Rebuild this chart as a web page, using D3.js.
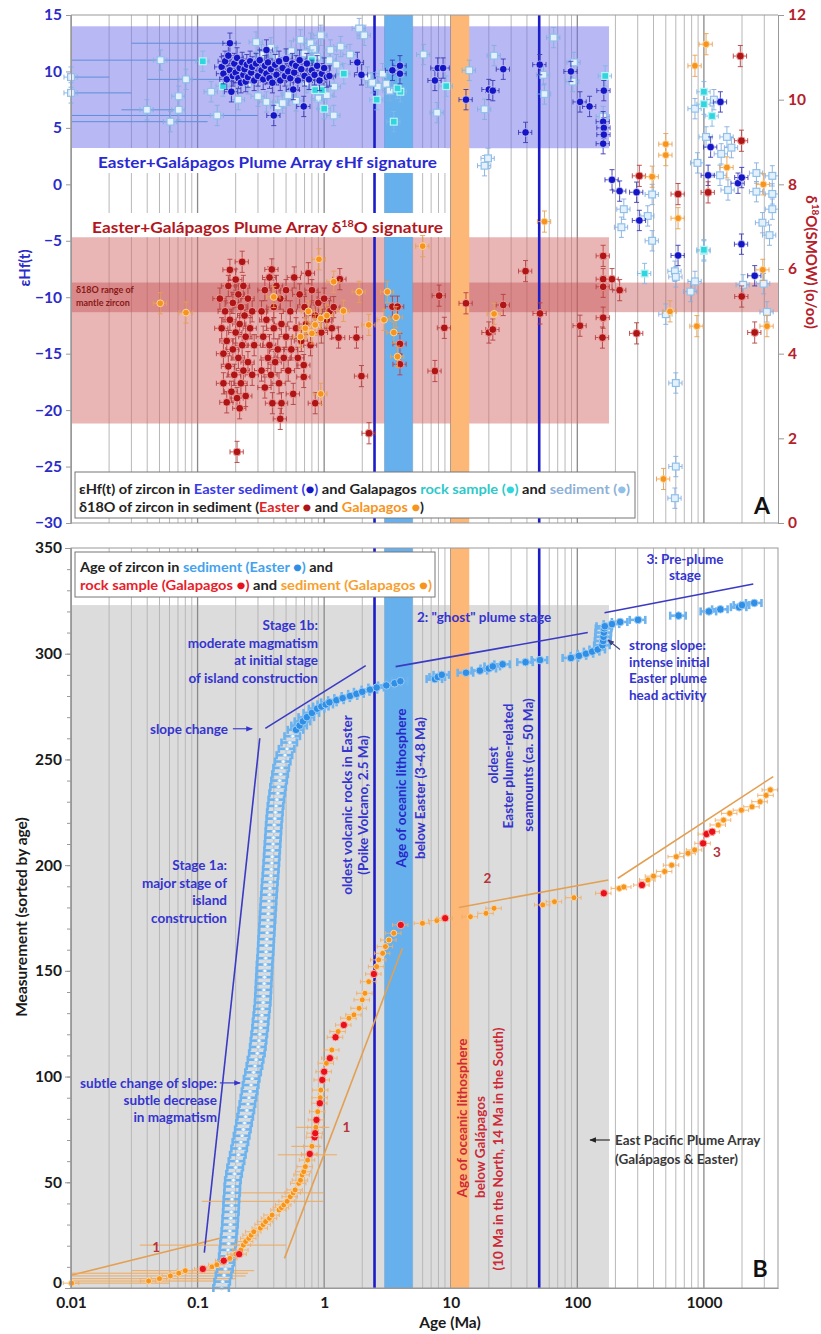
<!DOCTYPE html>
<html>
<head>
<meta charset="utf-8">
<title>Easter / Galapagos zircon</title>
<script src="https://cdn.jsdelivr.net/npm/d3@7"></script>
<style>
  body { margin: 0; background: #fff; }
  text { font-family: Lato, "Open Sans", sans-serif; font-weight: bold; }
</style>
</head>
<body>
<svg width="821" height="1334" id="mainsvg"></svg>
<script>
// ---------------- data ----------------
const ageTicks = [0.01, 0.1, 1, 10, 100, 1000];
const hfTicks = [15, 10, 5, 0, -5, -10, -15, -20, -25, -30];
const o18Ticks = [0, 2, 4, 6, 8, 10, 12];
const measTicks = [0, 50, 100, 150, 200, 250, 300, 350];

// shaded ranges
const hfSignature = [3.2, 14];      // eHf
const o18Signature = [2.35, 6.75];  // d18O
const mantleZircon = [4.98, 5.68];  // d18O
const plumeAgeMax = 178;            // Ma, right edge of signature boxes
const easterLithosphere = [3.0, 5.0];
const galapagosLithosphere = [10, 14];
const keyAges = [2.5, 50];
const grayTop = 323;

// panel A: eHf of zircon, Easter sediment [age, eHf]
const easterHf = [[0.155,10.4],[0.16,9.8],[0.165,10.9],[0.17,9.3],[0.175,11.4],[0.18,12.5],[0.18,10.1],[0.185,8.2],[0.19,9.6],
  [0.195,10.7],[0.2,9.9],[0.205,11.2],[0.21,9.4],[0.215,10.3],[0.22,9.0],[0.225,10.8],[0.23,9.7],[0.235,10.2],[0.24,9.1],
  [0.245,10.6],[0.25,9.5],[0.26,10.9],[0.265,9.9],[0.27,10.4],[0.28,9.2],[0.29,10.7],[0.3,9.6],[0.31,11.0],[0.32,10.1],
  [0.33,9.3],[0.34,10.5],[0.35,11.9],[0.35,9.8],[0.36,10.8],[0.37,9.4],[0.38,10.2],[0.39,9.0],[0.4,6.1],[0.41,10.6],
  [0.42,9.7],[0.44,10.9],[0.45,9.2],[0.47,10.3],[0.49,9.6],[0.5,11.1],[0.52,10.0],[0.54,9.4],[0.56,10.7],[0.57,8.4],
  [0.58,9.9],[0.6,10.5],[0.62,9.2],[0.64,11.0],[0.66,10.2],[0.69,6.9],[0.7,9.6],[0.73,10.7],[0.76,9.3],[0.8,10.1],
  [0.84,9.7],[0.88,10.5],[0.92,9.2],[0.96,9.8],[1.0,10.3],[1.05,9.5],[1.1,9.6],[1.83,10.8],[1.97,9.7],[3.46,10.1],
  [3.97,10.5],[3.97,9.8],[7.9,10.3],[8.7,10.3],[7.5,9.2],[13.2,7.5],[20,8.4],[21.5,8.3],[26,10.2],[39,4.6],[50.5,10.6],
  [89,10.0],[105,7.3],[125,6.9],[162,8.3],[160,5.55],[162,5.0],[162,4.4],[160,3.6],[188,0.4],[216,-0.6],[294,-0.7],
  [309,-3.2],[625,-6.3],[1080,0.8],[1130,3.3],[1350,7.3],[1860,0.1],[1990,0.6],[1980,-5.3],[2520,-8.1]];

// Galapagos rock sample [age, eHf]
const galRockHf = [[0.11,10.9],[0.159,8.7],[0.8,11.0],[0.85,8.35],[0.96,8.35],[1.0,6.7],[1.43,9.8],[2.6,7.5],[3.55,5.55],
  [4.0,8.2],[3.8,8.5],[9.2,8.7],[166,9.6],[1000,8.2],[1000,7.1],[1160,6.05],[1000,-5.9],[340,-7.9],[1000,-5.8]];

// Galapagos sediment [age, eHf]
const galSedHf = [[0.01,9.5],[0.01,8.1],[0.051,11.0],[0.0398,6.6],[0.061,5.55],[0.071,7.8],[0.071,6.6],[0.081,9.3],
  [0.128,8.2],[0.143,6.1],[0.21,7.5],[0.29,12.6],[0.35,7.3],[0.43,6.9],[0.47,7.2],[0.65,12.8],[0.78,12.5],[0.94,13.2],
  [1.12,11.9],[1.35,12.2],[1.89,13.8],[2.07,13.2],[2.2,9.5],[2.65,8.65],[3.1,8.9],[1.19,6.1],[1.2,8.65],[0.25,8.9],
  [0.3,7.8],[0.32,11.5],[0.38,12.1],[0.42,11.2],[0.52,7.9],[0.55,11.8],[0.6,7.4],[0.7,11.6],[0.72,9.0],[0.82,12.0],
  [0.88,11.3],[0.9,7.6],[1.05,7.9],[1.1,11.0],[1.25,10.6],[1.6,11.5],[2.4,9.0],[2.9,9.8],[3.3,8.3],[6.1,11.5],[7.8,6.35],
  [14,10.1],[22,11.4],[18.5,6.65],[19.7,2.3],[18.5,1.65],[65,13.0],[54,9.7],[55,8.0],[94,10.8],[92,9.1],[160,6.0],
  [223,-3.8],[233,-2.2],[360,-2.8],[390,-0.9],[390,-5.0],[850,6.7],[890,1.9],[1040,4.2],[1200,7.5],[1340,0.8],[1370,2.7],
  [1520,4.2],[1650,3.25],[1550,-0.5],[2600,1.0],[2600,-0.65],[2900,-3.4],[3300,-4.5],[3470,0.75],[3470,-0.85],[3470,-2.2],
  [590,-7.7],[600,-8.2],[785,-9.5],[850,-8.6],[2040,-8.9],[2960,-8.8],[3150,-11.3],[500,-11.5],[600,-17.6],[600,-25.0],[590,-27.8]];

// long age error bars on eHf points [age, eHf, ageLo, ageHi]
const hfLongBars = [[0.01,9.5,0.01,0.02],[0.01,8.1,0.01,0.03],[0.051,11.0,0.01,0.105],[0.143,6.1,0.01,0.3],
  [0.061,5.55,0.01,0.12],[0.081,9.3,0.04,0.42],[0.18,12.5,0.03,0.22],[0.0398,6.6,0.025,0.065]];

// panel A: d18O of zircon in sediment, Easter [age, d18O]
const easterO = [[0.15,5.3],[0.155,4.6],[0.16,4.0],[0.16,3.3],[0.165,5.0],[0.17,4.3],[0.17,2.85],[0.175,5.6],[0.175,3.7],
  [0.18,5.98],[0.18,4.8],[0.185,3.1],[0.19,5.2],[0.19,4.1],[0.195,3.5],[0.2,5.75],[0.2,4.5],[0.205,1.68],[0.205,2.95],
  [0.21,5.4],[0.21,3.9],[0.215,4.7],[0.215,2.71],[0.22,5.1],[0.22,3.3],[0.225,6.17],[0.225,4.2],[0.23,5.6],[0.23,3.6],
  [0.235,4.9],[0.24,4.4],[0.24,3.0],[0.25,5.3],[0.25,3.8],[0.26,4.6],[0.27,5.0],[0.27,3.5],[0.28,4.2],
  [0.32,5.0],[0.32,3.6],[0.33,4.4],[0.34,5.5],[0.34,3.2],[0.35,4.8],[0.36,3.9],[0.37,5.8],[0.37,4.2],[0.38,3.5],[0.386,5.99],
  [0.39,2.83],[0.4,5.1],[0.4,4.6],[0.41,3.8],[0.42,5.6],[0.43,4.1],[0.44,3.3],[0.45,2.46],[0.45,5.3],[0.46,4.7],[0.46,2.83],
  [0.48,3.9],[0.5,5.5],[0.5,4.4],[0.52,3.6],[0.54,5.0],[0.55,4.1],[0.57,3.05],[0.58,5.8],[0.6,4.6],[0.62,3.9],[0.64,5.4],
  [0.66,4.3],[0.69,3.73],[0.69,3.45],[0.7,5.1],[0.72,4.7],[0.75,5.9],[0.78,4.2],[0.8,5.5],[0.85,2.83],[0.85,4.9],[0.9,5.2],
  [0.95,4.5],[1.0,5.3],[1.05,4.8],[1.1,5.0],[1.15,4.6],[1.19,5.1],[1.3,4.38],[1.33,5.76],[1.8,4.38],[1.97,3.47],[2.26,2.12],
  [3.46,5.11],[3.8,5.11],[3.97,4.23],[3.97,3.75],[8.1,5.37],[8.9,4.61],[7.5,3.59],[13.2,5.19],[26,5.15],[20,4.5],[21.5,4.57],
  [39,5.95],[50.7,4.95],[105,4.66],[160,6.31],[160,5.76],[160,5.58],[188,5.76],[216,5.5],[160,4.85],[158,4.38],[294,4.48],
  [1990,5.35],[2520,4.5],[309,8.2],[625,7.77],[1080,7.81],[1940,11.03],[1980,9.03]];

// Galapagos [age, d18O]
const galO = [[0.0507,5.19],[0.081,4.97],[0.91,6.23],[1.19,5.7],[1.89,5.46],[1.42,5.01],[0.94,3.05],[2.25,4.68],[2.97,4.8],
  [3.16,5.46],[3.7,4.86],[3.55,4.5],[3.8,3.93],[0.65,4.4],[0.71,4.6],[0.8,4.48],[0.85,4.68],[0.94,4.83],[0.4,5.34],[0.75,5.0],
  [1.05,4.9],[6.0,6.54],[22,4.94],[540,5.0],[880,4.65],[480,1.04],[2920,5.98],[3150,4.65],[55,7.12],[390,8.18],[500,8.95],
  [500,8.69],[625,7.2],[850,10.8],[1040,11.31],[1520,8.4],[2950,8.0]];

// panel B: Easter sediment zircon ages [measurement, age]
const easterAges = [[0,0.155],[3,0.158],[6,0.162],[9,0.166],[12,0.17],[15,0.172],[18,0.174],[21,0.176],[24,0.178],[27,0.18],
  [30,0.182],[33,0.183],[36,0.185],[39,0.186],[42,0.187],[45,0.189],[48,0.19],[51,0.192],[54,0.196],[57,0.2],[60,0.205],
  [63,0.21],[66,0.215],[69,0.22],[72,0.225],[75,0.23],[78,0.235],[81,0.24],[84,0.245],[87,0.25],[90,0.255],[93,0.26],
  [96,0.265],[99,0.27],[102,0.277],[105,0.284],[108,0.29],[111,0.297],[114,0.302],[117,0.306],[120,0.31],[123,0.315],
  [126,0.318],[129,0.322],[132,0.326],[135,0.33],[138,0.332],[141,0.334],[144,0.336],[147,0.338],[150,0.34],[153,0.342],
  [156,0.345],[159,0.348],[162,0.35],[165,0.352],[168,0.355],[171,0.357],[174,0.36],[177,0.362],[180,0.365],[183,0.367],
  [186,0.37],[189,0.373],[192,0.376],[195,0.38],[198,0.383],[201,0.386],[204,0.389],[207,0.392],[210,0.395],[213,0.398],
  [216,0.401],[219,0.404],[222,0.408],[225,0.412],[228,0.417],[231,0.423],[234,0.43],[237,0.437],[240,0.445],[243,0.453],
  [246,0.462],[249,0.475],[252,0.49],[255,0.51],[258,0.535],[261,0.565],[264,0.6],[266,0.64],[268,0.68],[270,0.73],
  [272,0.8],[274,0.88],[275,0.95],[276,1.03],[277,1.1],[278,1.25],[279,1.4],[280,1.6],[281,1.8],[282,2.0],[283,2.3],
  [284,2.6],[285,3.1],[286,3.6],[287,4.0],[288,7.5],[289,7.9],[290,8.5],[291,13.2],[292,17],[293,20],[294,21.5],[295,25.7],
  [296,39],[297,50.7],[298,89],[299,103],[300,117],[301,131],[302,145],[304,158],[306,160],[308,161],[310,162],[312,163],
  [313,165],[314,188],[315,218],[316,302],[318,630],[320,1096],[321,1350],[322,1900],[323,2000],[324,2500]];

// Galapagos sediment [measurement, age]
const galSedAges = [[2.3,0.0101],[3.3,0.041],[4.4,0.05],[5.7,0.061],[7,0.071],[8.2,0.08],[10,0.13],[11,0.142],[14,0.18],
  [16,0.2],[18,0.22],[20.3,0.23],[22,0.24],[23.5,0.254],[25,0.265],[26.6,0.278],[28.3,0.313],[30,0.33],[31.4,0.345],[33,0.37],
  [34.5,0.388],[36.9,0.44],[38,0.46],[39.3,0.48],[41,0.51],[43.2,0.54],[45,0.57],[46.4,0.59],[49.5,0.63],[51,0.65],[53.5,0.67],
  [55,0.69],[57.4,0.71],[60.5,0.74],[63,0.77],[67,0.8],[76,0.86],[83.4,0.89],[90,0.93],[93.6,0.94],[106.3,1.04],[112.6,1.15],
  [121.3,1.29],[127.6,1.57],[129.2,1.72],[132.3,1.89],[136.3,2.0],[139.4,2.1],[144.9,2.25],[152,2.6],[155.2,2.7],[158.3,2.9],
  [161.5,3.05],[164.6,3.25],[167.8,3.55],[172.5,5.98],[173.8,7.77],[175.6,14.3],[177.2,19],[179.6,22],[181.2,53.3],
  [182.7,66],[184.6,94],[189,215],[189.7,233],[193,361],[194.8,400],[197,490],[200,556],[204,605],[205.6,750],[207.2,845],
  [219,1300],[221.3,1430],[224.5,1600],[226,1980],[227.6,2400],[230,2780],[233,3100],[235.6,3350]];

// Galapagos rock sample [measurement, age]
const galRockAges = [[9,0.11],[12.9,0.161],[16,0.213],[63.4,0.77],[71.3,0.84],[73.2,0.85],[79.5,0.87],[87.4,0.925],
  [98.4,0.966],[102.3,1.0],[108.7,1.11],[118.6,1.23],[124.4,1.43],[148.5,2.47],[171.7,4.03],[174.9,9.04],[186.7,162],
  [190.6,324],[210.3,986],[214.7,1047],[215.8,1162]];

// long age error bars, Galapagos sediment [measurement, ageLo, ageHi]
const galSedLongBars = [[2.3,0.01,0.06],[3.3,0.01,0.17],[4.4,0.01,0.2],[5.7,0.01,0.24],[7,0.01,0.25],[8.2,0.03,0.28],
  [20.3,0.035,0.5],[41,0.108,0.98],[45,0.163,0.98],[63,0.43,1.26],[67,0.55,0.95],[76,0.6,1.1]];

// trend lines [age0, m0, age1, m1]
const galTrends = [[0.01,6,0.15,23.5],[0.486,14,4.15,160.7],[11.6,180,176,193],[209,193.8,3530,241.9]];
const easterTrends = [[0.113,16.7,0.31,260],[0.343,264.7,2.13,294.4],[3.67,293.9,121,310],[164,319.4,2455,333]];

// ---------------- layout ----------------
const svg = d3.select('#mainsvg');
const plotL = 71, plotR = 778;
const panelA = {top: 15, bottom: 523};
const panelB = {top: 548, bottom: 1288};

const x = d3.scaleLog().domain([0.01, 3850]).range([plotL, plotR]);
const yHf = d3.scaleLinear().domain([-30, 15]).range([panelA.bottom, panelA.top]);
const yO = d3.scaleLinear().domain([0, 12]).range([panelA.bottom, panelA.top]);
const yM = d3.scaleLinear().domain([0, 350]).range([panelB.bottom, panelB.top]);

const C = {
  navy: '#1515c8', hfBlue: '#2b2bc8', red: '#b01515', axisRed: '#b5202a',
  orange: '#f7941d', cyan: '#2fd6de', sedBlue: '#8fc0ea',
  band: '#66b0ee', bandOr: '#fdb877', line: '#1c1cc8', annot: '#3434cf', grid: '#b8b8b8'
};

svg.append('defs').append('marker')
  .attr('id', 'arrow').attr('viewBox', '0 0 10 10').attr('refX', 9).attr('refY', 5)
  .attr('markerWidth', 6).attr('markerHeight', 6).attr('orient', 'auto')
  .append('path').attr('d', 'M0,1 L10,5 L0,9 Z').attr('fill', 'context-stroke');

// grid positions: 1..9 of each decade
const gridAges = [];
ageTicks.forEach(d => { for (let k = 1; k <= 9; k++) if (d * k <= 3850) gridAges.push({v: d * k, major: k === 1}); });

const drawGrid = function(g, y0, y1){
  g.selectAll('line.grid').data(gridAges).join('line').attr('class', 'grid')
    .attr('x1', d => x(d.v)).attr('x2', d => x(d.v)).attr('y1', y0).attr('y2', y1)
    .attr('stroke', d => d.major ? '#8a8a8a' : C.grid).attr('stroke-width', d => d.major ? 1.3 : 1);
};

const drawVBands = function(g, y0, y1){
  [[easterLithosphere, C.band], [galapagosLithosphere, C.bandOr]].forEach(([r, c]) => {
    g.append('rect').attr('x', x(r[0])).attr('width', x(r[1]) - x(r[0]))
      .attr('y', y0).attr('height', y1 - y0).attr('fill', c);
  });
  g.selectAll('line.key').data(keyAges).join('line').attr('class', 'key')
    .attr('x1', d => x(d)).attr('x2', d => x(d)).attr('y1', y0).attr('y2', y1)
    .attr('stroke', C.line).attr('stroke-width', 2.6);
};

// ================= PANEL A =================
const gA = svg.append('g');
drawGrid(gA, panelA.top, panelA.bottom);
gA.append('rect').attr('x', plotL).attr('width', x(plumeAgeMax) - plotL)
  .attr('y', yHf(hfSignature[1])).attr('height', yHf(hfSignature[0]) - yHf(hfSignature[1]))
  .attr('fill', '#7272ec').attr('opacity', 0.5);
gA.append('rect').attr('x', plotL).attr('width', x(plumeAgeMax) - plotL)
  .attr('y', yO(o18Signature[1])).attr('height', yO(o18Signature[0]) - yO(o18Signature[1]))
  .attr('fill', '#d36b6b').attr('opacity', 0.5);
gA.append('rect').attr('x', plotL).attr('width', plotR - plotL)
  .attr('y', yO(mantleZircon[1])).attr('height', yO(mantleZircon[0]) - yO(mantleZircon[1]))
  .attr('fill', '#c04848').attr('opacity', 0.4);
drawVBands(gA, panelA.top, panelA.bottom);

// white label strips
gA.append('rect').attr('x', plotL + 1).attr('y', 148).attr('width', 374).attr('height', 25).attr('fill', '#fff');
gA.append('rect').attr('x', plotL + 1).attr('y', 213).attr('width', 376).attr('height', 24).attr('fill', '#fff');
gA.append('text').attr('x', 98).attr('y', 168).attr('fill', '#2a2ad2').attr('font-size', 16)
  .attr('textLength', 339).attr('lengthAdjust', 'spacingAndGlyphs')
  .text('Easter+Galápagos Plume Array εHf signature');
const o18Lab = gA.append('text').attr('x', 92).attr('y', 233).attr('fill', '#b3161c').attr('font-size', 16)
  .attr('textLength', 351).attr('lengthAdjust', 'spacingAndGlyphs');
o18Lab.append('tspan').text('Easter+Galápagos Plume Array δ');
o18Lab.append('tspan').attr('dy', -6).attr('font-size', 10).text('18');
o18Lab.append('tspan').attr('dy', 6).text('O signature');

gA.append('text').attr('x', 76).attr('y', 293).attr('font-size', 9).attr('font-weight', 'normal')
  .attr('fill', '#8a1818').text('δ18O range of');
gA.append('text').attr('x', 76).attr('y', 306).attr('font-size', 9).attr('font-weight', 'normal')
  .attr('fill', '#8a1818').text('mantle zircon');

const hfErr = 0.9, oErr = 0.25, relErr = 0.12;

const drawPoints = function(g, data, px, py, opt){
  // vertical error bars
  if (opt.vErr) {
    g.selectAll(null).data(data).join('line')
      .attr('x1', d => px(d)).attr('x2', d => px(d))
      .attr('y1', d => py(d) - opt.vErr).attr('y2', d => py(d) + opt.vErr)
      .attr('stroke', opt.bar).attr('stroke-width', 0.9);
    [-1, 1].forEach(s => g.selectAll(null).data(data).join('line')
      .attr('x1', d => px(d) - 2.5).attr('x2', d => px(d) + 2.5)
      .attr('y1', d => py(d) + s * opt.vErr).attr('y2', d => py(d) + s * opt.vErr)
      .attr('stroke', opt.bar).attr('stroke-width', 0.9));
  }
  // horizontal error bars
  g.selectAll(null).data(data).join('line')
    .attr('x1', d => opt.hx(d, -1)).attr('x2', d => opt.hx(d, 1))
    .attr('y1', d => py(d)).attr('y2', d => py(d))
    .attr('stroke', opt.bar).attr('stroke-width', opt.barW || 0.9);
  [-1, 1].forEach(s => g.selectAll(null).data(data).join('line')
    .attr('x1', d => opt.hx(d, s)).attr('x2', d => opt.hx(d, s))
    .attr('y1', d => py(d) - (opt.cap || 2.5)).attr('y2', d => py(d) + (opt.cap || 2.5))
    .attr('stroke', opt.bar).attr('stroke-width', opt.barW || 0.9));
  if (opt.square) {
    g.selectAll(null).data(data).join('rect')
      .attr('x', d => px(d) - opt.r).attr('y', d => py(d) - opt.r)
      .attr('width', opt.r * 2).attr('height', opt.r * 2)
      .attr('fill', opt.fill).attr('stroke', opt.stroke).attr('stroke-width', 1.2);
  } else {
    g.selectAll(null).data(data).join('circle')
      .attr('cx', px).attr('cy', py).attr('r', d => (opt.rf ? opt.rf(d) : opt.r))
      .attr('fill', d => (opt.fillf ? opt.fillf(d) : opt.fill))
      .attr('stroke', d => (opt.strokef ? opt.strokef(d) : opt.stroke)).attr('stroke-width', opt.sw || 1);
  }
};

const hxA = (d, s) => x(d[0] * (1 + s * relErr));

// long bars first
gA.selectAll(null).data(hfLongBars).join('line')
  .attr('x1', d => x(d[2])).attr('x2', d => x(d[3])).attr('y1', d => yHf(d[1])).attr('y2', d => yHf(d[1]))
  .attr('stroke', '#5d8fd8').attr('stroke-width', 1);

const gSed = gA.append('g');
drawPoints(gSed, galSedHf, d => x(d[0]), d => yHf(d[1]),
  {vErr: hfErr * 11.29, bar: '#86aee0', hx: hxA, square: true, r: 3.4, fill: '#e4f1fc', stroke: C.sedBlue});
const gRock = gA.append('g');
drawPoints(gRock, galRockHf, d => x(d[0]), d => yHf(d[1]),
  {vErr: hfErr * 11.29, bar: '#7fb8e6', hx: hxA, square: true, r: 3.4, fill: C.cyan, stroke: '#b8f2f4'});
const gNavy = gA.append('g');
drawPoints(gNavy, easterHf, d => x(d[0]), d => yHf(d[1]),
  {vErr: hfErr * 11.29, bar: '#3a3ab8', hx: hxA, r: 3.8, fill: C.navy, stroke: '#ffffff', sw: 0.6});

const gRed = gA.append('g');
drawPoints(gRed, easterO, d => x(d[0]), d => yO(d[1]),
  {vErr: oErr * 42.33, bar: '#b84040', hx: hxA, r: 3.9, fill: C.red, stroke: '#f2a6a6', sw: 0.9});
const gOr = gA.append('g');
drawPoints(gOr, galO, d => x(d[0]), d => yO(d[1]),
  {vErr: oErr * 42.33, bar: '#e8a050', hx: hxA, r: 3.4, fill: C.orange, stroke: '#ffd69a', sw: 1});

// legend A
gA.append('rect').attr('x', 75).attr('y', 472).attr('width', 560).attr('height', 46)
  .attr('fill', '#fff').attr('stroke', '#777').attr('stroke-width', 1);
const legA1 = gA.append('text').attr('x', 79).attr('y', 494).attr('font-size', 13.5)
  .attr('textLength', 551).attr('lengthAdjust', 'spacingAndGlyphs');
[['εHf(t) of zircon in ', '#222'], ['Easter sediment (', '#3a3ae6'], ['●', '#1515c8'], [')', '#3a3ae6'],
 [' and Galapagos ', '#222'], ['rock sample (', '#2ec8c8'], ['●', '#2fd6de'], [')', '#2ec8c8'],
 [' and ', '#222'], ['sediment (', '#8db0d6'], ['●', '#8fc0ea'], [')', '#8db0d6']]
  .forEach(([t, c]) => legA1.append('tspan').attr('fill', c).text(t));
const legA2 = gA.append('text').attr('x', 79).attr('y', 512).attr('font-size', 13.5)
  .attr('textLength', 345).attr('lengthAdjust', 'spacingAndGlyphs');
[['δ18O  of zircon in sediment (', '#222'], ['Easter ', '#e02424'], ['●', '#b01515'], [' and ', '#222'],
 ['Galapagos ', '#f7941d'], ['●', '#f7941d'], [')', '#222']]
  .forEach(([t, c]) => legA2.append('tspan').attr('fill', c).text(t));

gA.append('text').attr('x', 762).attr('y', 514).attr('text-anchor', 'middle').attr('font-size', 23).attr('fill', '#111').text('A');

// frame + axes A
gA.append('line').attr('x1', plotL).attr('x2', plotR).attr('y1', panelA.top).attr('y2', panelA.top).attr('stroke', '#999');
gA.append('line').attr('x1', plotL).attr('x2', plotR).attr('y1', panelA.bottom).attr('y2', panelA.bottom).attr('stroke', '#999');
const axL = gA.append('g').attr('transform', `translate(${plotL},0)`)
  .call(d3.axisLeft(yHf).tickValues(hfTicks).tickSize(5).tickPadding(4));
axL.selectAll('text').attr('fill', C.hfBlue).attr('font-size', 15.5).attr('font-family', 'Lato, sans-serif').attr('font-weight', 'bold');
axL.selectAll('line,path').attr('stroke', '#999');
const axR = gA.append('g').attr('transform', `translate(${plotR},0)`)
  .call(d3.axisRight(yO).tickValues(o18Ticks).tickSize(6).tickPadding(4));
axR.selectAll('text').attr('fill', C.axisRed).attr('font-size', 15.5).attr('font-family', 'Lato, sans-serif').attr('font-weight', 'bold');
axR.selectAll('line,path').attr('stroke', '#999');

gA.append('text').attr('transform', 'translate(30,268) rotate(-90)').attr('text-anchor', 'middle')
  .attr('fill', C.hfBlue).attr('font-size', 15).text('εHf(t)');
const rt = gA.append('text').attr('transform', 'translate(806,262) rotate(90)').attr('text-anchor', 'middle')
  .attr('fill', C.axisRed).attr('font-size', 15);
rt.append('tspan').text('δ');
rt.append('tspan').attr('dy', -6).attr('font-size', 10).text('18');
rt.append('tspan').attr('dy', 6).text('O(SMOW) (o/oo)');

// ================= PANEL B =================
const gB = svg.append('g');
gB.append('rect').attr('x', plotL).attr('width', x(plumeAgeMax) - plotL)
  .attr('y', yM(grayTop)).attr('height', yM(0) - yM(grayTop)).attr('fill', '#dcdcdc');
drawGrid(gB, panelB.top, panelB.bottom);
drawVBands(gB, panelB.top, panelB.bottom);

// trend lines
gB.selectAll(null).data(galTrends).join('line')
  .attr('x1', d => x(d[0])).attr('y1', d => yM(d[1])).attr('x2', d => x(d[2])).attr('y2', d => yM(d[3]))
  .attr('stroke', '#e3a052').attr('stroke-width', 1.6);
gB.selectAll(null).data(easterTrends).join('line')
  .attr('x1', d => x(d[0])).attr('y1', d => yM(d[1])).attr('x2', d => x(d[2])).attr('y2', d => yM(d[3]))
  .attr('stroke', '#3a3ac4').attr('stroke-width', 1.6);

// orange long bars
gB.selectAll(null).data(galSedLongBars).join('line')
  .attr('x1', d => x(d[1])).attr('x2', d => x(d[2])).attr('y1', d => yM(d[0])).attr('y2', d => yM(d[0]))
  .attr('stroke', '#f0a85a').attr('stroke-width', 1);

const hxB = (d, s) => x(d[1] * (1 + s * 0.14));
const gBlue = gB.append('g');
drawPoints(gBlue, easterAges, d => x(d[1]), d => yM(d[0]),
  {bar: '#6cb3ef', barW: 2.6, cap: 4, hx: hxB,
   rf: d => d[1] < 0.6 ? 1.9 : 3.8,
   fillf: d => d[1] < 0.6 ? '#f4faff' : '#2f8fe6',
   strokef: d => d[1] < 0.6 ? '#a6d2f6' : '#9ccbf3', sw: 1});
const gGs = gB.append('g');
drawPoints(gGs, galSedAges, d => x(d[1]), d => yM(d[0]),
  {bar: '#f2ad66', hx: hxB, cap: 2, r: 3, fill: C.orange, stroke: '#ffd69a', sw: 1});
const gGr = gB.append('g');
drawPoints(gGr, galRockAges, d => x(d[1]), d => yM(d[0]),
  {bar: '#f2ad66', hx: hxB, cap: 2, r: 3.7, fill: '#e8101a', stroke: '#ffb0a0', sw: 1});

// legend B
gB.append('rect').attr('x', 75).attr('y', 552).attr('width', 360).attr('height', 45)
  .attr('fill', '#fff').attr('stroke', '#777').attr('stroke-width', 1);
const legB1 = gB.append('text').attr('x', 80).attr('y', 572).attr('font-size', 13.5)
  .attr('textLength', 253).attr('lengthAdjust', 'spacingAndGlyphs');
[['Age of zircon in ', '#222'], ['sediment (Easter ', '#43a2ee'], ['●', '#2f8fe6'], [')', '#43a2ee'], [' and', '#222']]
  .forEach(([t, c]) => legB1.append('tspan').attr('fill', c).text(t));
const legB2 = gB.append('text').attr('x', 80).attr('y', 590).attr('font-size', 13.5)
  .attr('textLength', 352).attr('lengthAdjust', 'spacingAndGlyphs');
[['rock sample (Galapagos ', '#e8202a'], ['●', '#e8101a'], [')', '#e8202a'], [' and ', '#222'],
 ['sediment (Galapagos ', '#f7a030'], ['●', '#f7941d'], [')', '#f7a030']]
  .forEach(([t, c]) => legB2.append('tspan').attr('fill', c).text(t));

// annotations
const note = function(lines, xp, y0, anchor, color, dy){
  lines.forEach((t, i) => gB.append('text').attr('x', xp).attr('y', y0 + i * (dy || 17.5))
    .attr('text-anchor', anchor).attr('fill', color).attr('font-size', 13.5).text(t));
};
note(['Stage 1b:', 'moderate magmatism', 'at initial stage', 'of island construction'], 318, 630, 'end', C.annot);
note(['slope change'], 228, 734, 'end', C.annot);
note(['2: "ghost" plume stage'], 417, 622, 'start', C.annot);
note(['3: Pre-plume', 'stage'], 685, 564, 'middle', C.annot, 16);
note(['strong slope:', 'intense initial', 'Easter plume', 'head activity'], 629, 650, 'start', C.annot, 16.5);
note(['Stage 1a:', 'major stage of', 'island', 'construction'], 227, 870, 'end', C.annot);
note(['subtle change of slope:', 'subtle decrease', 'in magmatism'], 217, 1088, 'end', C.annot, 17);
note(['East Pacific Plume Array', '(Galápagos & Easter)'], 615, 1145, 'start', '#383838', 19);

const vnote = function(t, xp, yp, color){
  gB.append('text').attr('transform', `translate(${xp},${yp}) rotate(-90)`).attr('text-anchor', 'middle')
    .attr('fill', color).attr('font-size', 13.5).text(t);
};
vnote('oldest volcanic rocks in Easter', 352, 805, C.annot);
vnote('(Poike Volcano, 2.5 Ma)', 368, 805, C.annot);
vnote('Age of oceanic lithosphere', 406, 788, '#2727c8');
vnote('below Easter (3-4.8 Ma)', 425, 788, C.annot);
vnote('oldest', 498, 765, C.annot);
vnote('Easter plume-related', 513, 766, C.annot);
vnote('seamounts (ca. 50 Ma)', 533, 765, C.annot);
vnote('Age of oceanic lithosphere', 467, 1118, '#cc2a36');
vnote('below Galápagos', 485, 1147, '#cc2a36');
vnote('(10 Ma in the North, 14 Ma in the South)', 503, 1149, '#cc2a36');

[['1', 0.047, 17], ['1', 1.5, 74], ['2', 19.5, 191.5], ['3', 1270, 204]].forEach(([t, a, m]) => {
  gB.append('text').attr('x', x(a)).attr('y', yM(m)).attr('text-anchor', 'middle')
    .attr('fill', '#b8323a').attr('font-size', 13.5).text(t);
});

// arrows [age0, m0, age1, m1, colour]
[[0.19, 264.5, 0.27, 264.5, C.annot], [0.15, 97, 0.217, 97, C.annot],
 [217, 302, 175, 306.5, '#404080'], [181, 70, 126, 70, '#222']].forEach(d => {
  gB.append('line').attr('x1', x(d[0])).attr('y1', yM(d[1])).attr('x2', x(d[2])).attr('y2', yM(d[3]))
    .attr('stroke', d[4]).attr('stroke-width', 1.1).attr('marker-end', 'url(#arrow)');
});

gB.append('text').attr('x', 760).attr('y', 1277).attr('text-anchor', 'middle').attr('font-size', 23).attr('fill', '#111').text('B');

// frame + axes B
gB.append('rect').attr('x', plotL).attr('y', panelB.top).attr('width', plotR - plotL)
  .attr('height', panelB.bottom - panelB.top).attr('fill', 'none').attr('stroke', '#999');
const axBL = gB.append('g').attr('transform', `translate(${plotL},0)`)
  .call(d3.axisLeft(yM).tickValues(measTicks).tickSize(6).tickPadding(3));
axBL.selectAll('text').attr('fill', '#1a1a1a').attr('font-size', 15.5).attr('font-family', 'Lato, sans-serif').attr('font-weight', 'bold');
axBL.selectAll('.tick').filter(d => d === 0).select('text').attr('dy', '-0.05em');
axBL.selectAll('line,path').attr('stroke', '#999');
gB.append('g').attr('transform', `translate(${plotL},0)`)
  .call(d3.axisLeft(yM).tickValues(d3.range(0, 351, 10)).tickSize(4).tickFormat(''))
  .selectAll('line,path').attr('stroke', '#999');
const axBB = gB.append('g').attr('transform', `translate(0,${panelB.bottom})`)
  .call(d3.axisBottom(x).tickValues(ageTicks).tickSize(0).tickPadding(9).tickFormat(d3.format('~g')));
axBB.selectAll('text').attr('fill', '#1a1a1a').attr('font-size', 15.5).attr('font-family', 'Lato, sans-serif').attr('font-weight', 'bold');
axBB.select('.domain').attr('stroke', '#999');

gB.append('text').attr('transform', 'translate(27,917) rotate(-90)').attr('text-anchor', 'middle')
  .attr('fill', '#1a1a1a').attr('font-size', 15.5).text('Measurement (sorted by age)');
gB.append('text').attr('x', 450).attr('y', 1328).attr('text-anchor', 'middle')
  .attr('fill', '#1a1a1a').attr('font-size', 15.5).text('Age (Ma)');
</script>
</body>
</html>
